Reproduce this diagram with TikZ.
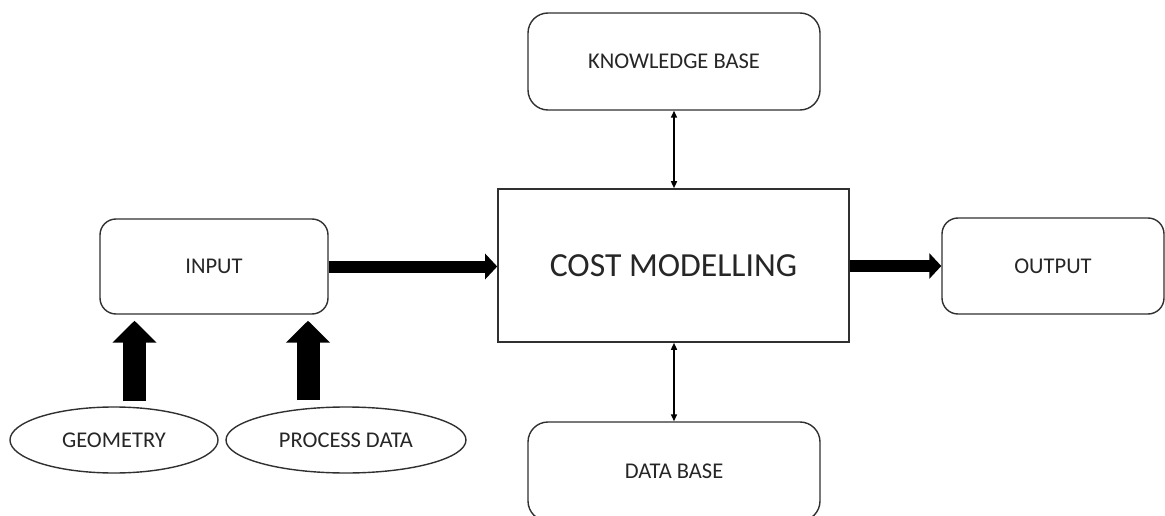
\documentclass[tikz,border=0pt]{standalone}
\usepackage{fontspec}
\setmainfont{Carlito}
\usetikzlibrary{arrows.meta,shapes.geometric}
\definecolor{ink}{HTML}{262626}
\definecolor{edge}{HTML}{303030}
\tikzset{
  blk/.style={draw=edge, line width=1.4pt, rounded corners=#1, inner sep=0pt,
    text=ink, font=\fontsize{22.5}{27}\selectfont},
  blk/.default=16pt,
  core/.style={draw=edge, line width=1.6pt, inner sep=0pt, text=ink,
    font=\fontsize{33.7}{40}\selectfont},
  oval/.style={ellipse, draw=edge, line width=1.4pt, inner sep=0pt, text=ink,
    font=\fontsize{22.5}{27}\selectfont, minimum height=66pt},
  fatflow/.style={line width=12pt, -{Triangle[length=12pt,width=25pt]}},
  fatup/.style={line width=23pt, -{Triangle[length=22pt,width=43pt]}},
  link/.style={line width=1.5pt, {Triangle[length=7pt,width=6pt]}-{Triangle[length=7pt,width=6pt]}},
}
\begin{document}
\begin{tikzpicture}[x=1pt,y=-1pt]
\useasboundingbox (0,0) rectangle (1165,516);
\clip (0,0) rectangle (1165,516);

% main blocks
\node[blk, minimum width=228pt, minimum height=95pt] (input) at (214,266.5) {INPUT};
\node[core, minimum width=351pt, minimum height=153pt] (cost) at (673.5,265.5) {COST MODELLING};
\node[blk=20pt, minimum width=292pt, minimum height=97pt] (kb) at (674,61.5) {KNOWLEDGE BASE};
\node[blk=20pt, minimum width=292pt, minimum height=99pt] (db) at (674,471.5) {DATA BASE};
\node[blk, minimum width=222pt, minimum height=96pt] (out) at (1053,266) {OUTPUT};

% input sources
\node[oval, minimum width=208pt] (geo) at (114,440) {GEOMETRY};
\node[oval, minimum width=240pt] (proc) at (346,440) {PROCESS DATA};

\coordinate (ga) at (134.5,0);
\coordinate (pa) at (308,0);

% main flow
\draw[fatflow] (input.east) -- (cost.west |- input.east);
\draw[fatflow] (cost.east |- out.west) -- (out.west);

% feeds into the input block
\draw[fatup, shorten <=5pt, shorten >=6pt] (geo.north -| ga) -- (input.south -| ga);
\draw[fatup, shorten <=6pt, shorten >=6pt] (proc.north -| pa) -- (input.south -| pa);

% exchange with the knowledge and data bases
\draw[link] (kb.south) -- (cost.north -| kb.south);
\draw[link] (cost.south -| db.north) -- (db.north);
\end{tikzpicture}
\end{document}
